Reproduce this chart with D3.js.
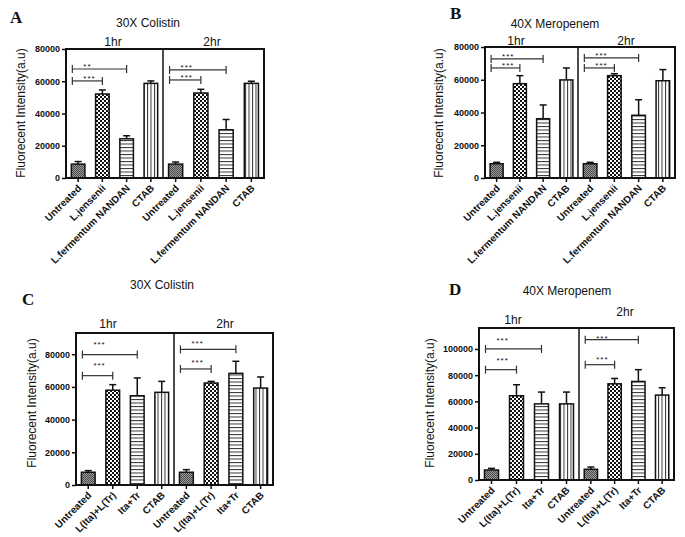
<!DOCTYPE html>
<html><head><meta charset="utf-8">
<script src="https://cdn.jsdelivr.net/npm/d3@7"></script>
<style>
body{margin:0;background:#fff}
svg{display:block}
text{font-family:"Liberation Sans",Arial,sans-serif;fill:#111}
</style>
</head><body>
<svg id="c" width="685" height="537"></svg>
<script>
// ---------------- DATA ----------------
const panelLetters = ["A", "B", "C", "D"];
const panelTitles = ["30X Colistin", "40X Meropenem", "30X Colistin", "40X Meropenem"];
const timeGroups = ["1hr", "2hr"];
const categoriesAB = ["Untreated", "L.jensenii", "L.fermentum NANDAN", "CTAB"];
const categoriesCD = ["Untreated", "L(Ita)+L(Tr)", "Ita+Tr", "CTAB"];
const yAxisTitle = "Fluorecent Intensity(a.u)";

// means [1hr, 2hr]
const meanA = [[8600, 52100, 24300, 58700], [8600, 52700, 29900, 58700]];
const sdA   = [[1600, 2500, 1900, 1500],   [1300, 2300, 6400, 1300]];
const meanB = [[8700, 57600, 36200, 59900], [8700, 62500, 38300, 59400]];
const sdB   = [[900, 4900, 8400, 7300],    [900, 1200, 9500, 6800]];
const meanC = [[7800, 58000, 54600, 56700], [7800, 62400, 68300, 59300]];
const sdC   = [[1000, 3400, 10900, 6700],  [1600, 1000, 7400, 6800]];
const meanD = [[7650, 64300, 58100, 58100], [8200, 73400, 75200, 64800]];
const sdD   = [[1250, 8400, 9000, 9000],   [1700, 4100, 9000, 5600]];

const yMaxes = [80000, 80000, 93000, 116000];
const yTicksAB = [0, 20000, 40000, 60000, 80000];
const yTicksC = [0, 20000, 40000, 60000, 80000];
const yTicksD = [0, 20000, 40000, 60000, 80000, 100000];

// brackets: [fromIndex, toIndex, yValue, label]
const bracketsA = [[[0, 2, 67600, "**"], [0, 1, 60200, "***"]], [[0, 2, 67000, "***"], [0, 1, 60800, "***"]]];
const bracketsB = [[[0, 2, 72700, "***"], [0, 1, 67200, "***"]], [[0, 2, 73300, "***"], [0, 1, 67200, "***"]]];
const bracketsC = [[[0, 2, 79800, "***"], [0, 1, 66900, "***"]], [[0, 2, 83000, "***"], [0, 1, 71000, "***"]]];
const bracketsD = [[[0, 2, 100000, "***"], [0, 1, 84200, "***"]], [[0, 2, 107100, "***"], [0, 1, 88000, "***"]]];

const panelData = [
  {cats: categoriesAB, mean: meanA, sd: sdA, ticks: yTicksAB, br: bracketsA},
  {cats: categoriesAB, mean: meanB, sd: sdB, ticks: yTicksAB, br: bracketsB},
  {cats: categoriesCD, mean: meanC, sd: sdC, ticks: yTicksC, br: bracketsC},
  {cats: categoriesCD, mean: meanD, sd: sdD, ticks: yTicksD, br: bracketsD}
];

// ---------------- LAYOUT ----------------
const layout = [
  {left: 66, right: 264, top: 49, bottom: 178, div: 163, letter: [10, 23], title: [148, 27], grp: [[113, 46], [212, 46]], ytitle: [25, 113], starDy: [[0, 0], [0, 0]]},
  {left: 485, right: 675, top: 47, bottom: 178, div: 578, letter: [450, 19], title: [555, 28], grp: [[516, 45], [626, 45]], ytitle: [443, 113], starDy: [[0, 0], [0, 0]]},
  {left: 76, right: 273, top: 333, bottom: 485, div: 174, letter: [22, 305], title: [162, 289], grp: [[108, 328], [225, 328]], ytitle: [36, 403], starDy: [[8, 8], [3, 3.5]]},
  {left: 479, right: 674, top: 328, bottom: 480, div: 579, letter: [449, 295], title: [567, 295], grp: [[513, 324], [625, 316]], ytitle: [434, 403], starDy: [[6.3, 6.3], [-1.5, 3]]}
];
const fills = ["url(#pUnt)", "url(#pChk)", "url(#pHor)", "url(#pVer)"];

const svg = d3.select("#c");
const defs = svg.append("defs");
// patterns
let p = defs.append("pattern").attr("id", "pUnt").attr("patternUnits", "userSpaceOnUse").attr("width", 2).attr("height", 2);
p.append("rect").attr("width", 2).attr("height", 2).attr("fill", "#9a9a9a");
p.append("rect").attr("width", 1).attr("height", 1).attr("fill", "#4a4a4a");
p.append("rect").attr("x", 1).attr("y", 1).attr("width", 1).attr("height", 1).attr("fill", "#4a4a4a");
p = defs.append("pattern").attr("id", "pChk").attr("patternUnits", "userSpaceOnUse").attr("width", 4).attr("height", 4);
p.append("rect").attr("width", 4).attr("height", 4).attr("fill", "#fff");
p.append("rect").attr("width", 2).attr("height", 2).attr("fill", "#111");
p.append("rect").attr("x", 2).attr("y", 2).attr("width", 2).attr("height", 2).attr("fill", "#111");
p = defs.append("pattern").attr("id", "pHor").attr("patternUnits", "userSpaceOnUse").attr("width", 4).attr("height", 3.5);
p.append("rect").attr("width", 4).attr("height", 3.5).attr("fill", "#fff");
p.append("rect").attr("width", 4).attr("height", 1).attr("fill", "#333");
p = defs.append("pattern").attr("id", "pVer").attr("patternUnits", "userSpaceOnUse").attr("width", 3.5).attr("height", 4);
p.append("rect").attr("width", 3.5).attr("height", 4).attr("fill", "#fff");
p.append("rect").attr("width", 1).attr("height", 4).attr("fill", "#333");

panelData.forEach((D, i) => {
  const L = layout[i];
  const g = svg.append("g");
  const y = d3.scaleLinear().domain([0, yMaxes[i]]).range([L.bottom, L.top]);

  // letter, title, y-title
  g.append("text").attr("x", L.letter[0]).attr("y", L.letter[1])
    .style("font-family", "'Liberation Serif','Times New Roman',serif").style("font-weight", "bold").style("font-size", "17px")
    .text(panelLetters[i]);
  g.append("text").attr("x", L.title[0]).attr("y", L.title[1]).attr("text-anchor", "middle")
    .style("font-size", "12px").text(panelTitles[i]);
  g.append("text").attr("transform", `translate(${L.ytitle[0]},${L.ytitle[1]}) rotate(-90)`)
    .attr("text-anchor", "middle").style("font-size", "12px").text(yAxisTitle);

  // y axis
  const ya = g.append("g").attr("transform", `translate(${L.left},0)`)
    .call(d3.axisLeft(y).tickValues(D.ticks).tickSize(4).tickPadding(2).tickFormat(d3.format("d")));
  ya.select(".domain").remove();
  ya.selectAll("line").attr("stroke", "#111").attr("stroke-width", 1.5);
  ya.selectAll("text").style("font-size", "9px").style("font-weight", "bold").attr("fill", "#111");

  const ranges = [[L.left, L.div], [L.div, L.right]];
  timeGroups.forEach((tg, gi) => {
    const x = d3.scaleBand().domain(D.cats).range(ranges[gi]).paddingInner(0.44).paddingOuter(0.22);
    const bw = x.bandwidth();
    const gg = g.append("g");

    // x axis
    const xa = gg.append("g").attr("transform", `translate(0,${L.bottom})`)
      .call(d3.axisBottom(x).tickSize(4).tickSizeOuter(0));
    xa.select(".domain").remove();
    xa.selectAll("line").attr("stroke", "#111").attr("stroke-width", 1.5);
    xa.selectAll("text")
      .style("font-size", "10px").style("font-weight", "bold").attr("fill", "#111")
      .attr("text-anchor", "end").attr("dy", null).attr("y", null)
      .attr("transform", "translate(2,9) rotate(-45)")
      .attr("dominant-baseline", "middle");

    const rows = D.cats.map((c, k) => ({c, k, m: D.mean[gi][k], s: D.sd[gi][k]}));
    // error bars
    const eb = gg.selectAll(".eb").data(rows).enter().append("g");
    eb.append("line").attr("x1", d => x(d.c) + bw / 2).attr("x2", d => x(d.c) + bw / 2)
      .attr("y1", d => y(d.m)).attr("y2", d => y(d.m + d.s)).attr("stroke", "#111").attr("stroke-width", 1.5);
    eb.append("line").attr("x1", d => x(d.c) + bw / 2 - 3.5).attr("x2", d => x(d.c) + bw / 2 + 3.5)
      .attr("y1", d => y(d.m + d.s)).attr("y2", d => y(d.m + d.s)).attr("stroke", "#111").attr("stroke-width", 1.5);
    // bars
    gg.selectAll(".bar").data(rows).enter().append("rect")
      .attr("x", d => x(d.c)).attr("width", bw)
      .attr("y", d => y(d.m)).attr("height", d => y(0) - y(d.m))
      .attr("fill", d => fills[d.k]).attr("stroke", "#111").attr("stroke-width", 1.5);

    // brackets
    D.br[gi].forEach((b, bi) => {
      const x1 = x(D.cats[b[0]]) + 1;
      const x2 = x(D.cats[b[1]]) + bw / 2;
      const yy = y(b[2]);
      const bg = gg.append("g").attr("stroke", "#333").attr("stroke-width", 1.2);
      bg.append("line").attr("x1", x1).attr("x2", x2).attr("y1", yy).attr("y2", yy);
      bg.append("line").attr("x1", x1).attr("x2", x1).attr("y1", yy - 4).attr("y2", yy + 4);
      bg.append("line").attr("x1", x2).attr("x2", x2).attr("y1", yy - 4).attr("y2", yy + 4);
      gg.append("text").attr("x", x1 + 11).attr("y", yy - L.starDy[gi][bi])
        .style("font-size", "8px").style("letter-spacing", "1px").attr("fill", "#333").text(b[3]);
    });

    // group label
    gg.append("text").attr("x", L.grp[gi][0]).attr("y", L.grp[gi][1]).attr("text-anchor", "middle")
      .style("font-size", "12px").text(tg);
  });

  // box and divider
  g.append("rect").attr("x", L.left).attr("y", L.top).attr("width", L.right - L.left).attr("height", L.bottom - L.top)
    .attr("fill", "none").attr("stroke", "#111").attr("stroke-width", 2);
  g.append("line").attr("x1", L.div).attr("x2", L.div).attr("y1", L.top).attr("y2", L.bottom)
    .attr("stroke", "#111").attr("stroke-width", 1.5);
});
</script>
</body></html>
